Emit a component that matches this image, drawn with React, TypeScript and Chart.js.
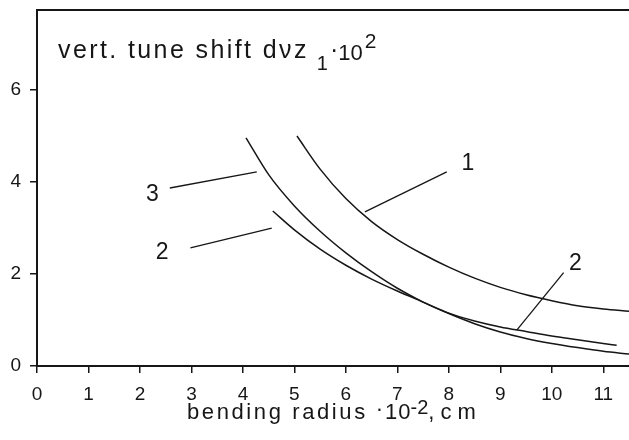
import { useEffect, useRef } from "react";
import { Chart, registerables } from "chart.js";

Chart.register(...registerables);

const INK = "#161616";
const FONT = "'Liberation Sans', Arial, sans-serif";

// axes
const xTickValues = [0, 1, 2, 3, 4, 5, 6, 7, 8, 9, 10, 11];
const yTickValues = [0, 2, 4, 6];
const xMin = 0;
const xMax = 11.5;
const yMin = 0;
const yMax = 7.74;

// curve 1
const curve1X = [5.05, 5.5, 6.0, 6.5, 7.0, 7.5, 8.0, 8.5, 9.0, 9.5, 10.0, 10.5, 11.0, 11.5];
const curve1Y = [5.0, 4.28, 3.64, 3.14, 2.75, 2.43, 2.15, 1.91, 1.71, 1.55, 1.42, 1.31, 1.24, 1.19];

// curve 2
const curve2X = [4.58, 5.0, 5.5, 6.0, 6.5, 7.0, 7.5, 8.0, 8.5, 9.0, 9.5, 10.0, 10.5, 11.0, 11.26];
const curve2Y = [3.37, 2.96, 2.54, 2.19, 1.89, 1.63, 1.39, 1.15, 0.98, 0.85, 0.75, 0.65, 0.57, 0.49, 0.45];

// curve 3
const curve3X = [4.06, 4.5, 5.0, 5.5, 6.0, 6.5, 7.0, 7.5, 8.0, 8.5, 9.0, 9.5, 10.0, 10.5, 11.0, 11.5];
const curve3Y = [4.96, 4.16, 3.48, 2.93, 2.46, 2.05, 1.69, 1.39, 1.14, 0.92, 0.74, 0.6, 0.49, 0.4, 0.32, 0.26];

// curve annotations (label + leader line), in data units
const labelTexts = ["1", "3", "2", "2"];
const labelX = [8.37, 2.24, 2.43, 10.46];
const labelY = [4.41, 3.72, 2.46, 2.23];
const leaderX1 = [7.96, 2.58, 2.98, 10.23];
const leaderY1 = [4.22, 3.87, 2.57, 2.03];
const leaderX2 = [6.37, 4.27, 4.56, 9.32];
const leaderY2 = [3.35, 4.22, 3.0, 0.78];

// titles
const yTitleMain = "vert. tune shift d\u03bdz";
const yTitleSub = "1";
const yTitleDot = "\u00b7";
const yTitleBase = "10";
const yTitleExp = "2";

const xTitleMain = "bending radius";
const xTitleDot = "\u00b7";
const xTitleBase = "10";
const xTitleExp = "-2";
const xTitleUnit = ",cm";

function pts(xs: number[], ys: number[]) {
  return xs.map((x, i) => ({ x, y: ys[i] }));
}

const overlayPlugin = {
  id: "overlay",
  afterDraw(chart: any) {
    const { ctx, chartArea: a, scales } = chart;
    const xs = scales.x;
    const ys = scales.y;
    ctx.save();
    // top frame line
    ctx.strokeStyle = INK;
    ctx.lineWidth = 2;
    ctx.beginPath();
    ctx.moveTo(a.left, a.top);
    ctx.lineTo(a.right, a.top);
    ctx.stroke();

    ctx.fillStyle = INK;
    // curve labels
    ctx.font = `23px ${FONT}`;
    ctx.textAlign = "center";
    ctx.textBaseline = "middle";
    labelTexts.forEach((t, i) => {
      ctx.fillText(t, xs.getPixelForValue(labelX[i]), ys.getPixelForValue(labelY[i]));
    });

    // in-plot y title
    ctx.textAlign = "left";
    ctx.textBaseline = "alphabetic";
    const setLS = (v: string) => {
      try {
        (ctx as any).letterSpacing = v;
      } catch (e) {}
    };
    let x = a.left + 21;
    const base = a.top + 48;
    ctx.font = `25px ${FONT}`;
    setLS("2.4px");
    ctx.fillText(yTitleMain, x, base);
    x += ctx.measureText(yTitleMain).width + 8;
    setLS("0px");
    ctx.font = `20px ${FONT}`;
    ctx.fillText(yTitleSub, x, base + 12);
    x += ctx.measureText(yTitleSub).width + 2;
    ctx.font = `25px ${FONT}`;
    ctx.fillText(yTitleDot, x, base);
    x += ctx.measureText(yTitleDot).width;
    ctx.font = `22px ${FONT}`;
    ctx.fillText(yTitleBase, x, base + 2);
    x += ctx.measureText(yTitleBase).width + 2;
    ctx.font = `21px ${FONT}`;
    ctx.fillText(yTitleExp, x, base - 10);

    // x axis title
    let tx = a.left + 150;
    const tb = a.bottom + 53;
    ctx.font = `22px ${FONT}`;
    setLS("2.6px");
    ctx.fillText(xTitleMain, tx, tb);
    tx += ctx.measureText(xTitleMain).width + 8;
    setLS("0px");
    ctx.fillText(xTitleDot, tx, tb - 3);
    tx += ctx.measureText(xTitleDot).width + 2;
    setLS("1px");
    ctx.fillText(xTitleBase, tx, tb);
    tx += ctx.measureText(xTitleBase).width - 1;
    setLS("0px");
    ctx.font = `20px ${FONT}`;
    ctx.fillText(xTitleExp, tx, tb - 5);
    tx += ctx.measureText(xTitleExp).width;
    ctx.font = `22px ${FONT}`;
    setLS("6px");
    ctx.fillText(xTitleUnit, tx, tb);
    ctx.restore();
  },
};

export default function App() {
  const ref = useRef<HTMLCanvasElement | null>(null);

  useEffect(() => {
    if (!ref.current) return;
    const curveStyle = {
      borderColor: INK,
      borderWidth: 1.5,
      pointRadius: 0,
      fill: false,
      tension: 0.4,
      cubicInterpolationMode: "monotone" as const,
    };
    const leaderSets = labelTexts.map((t, i) => ({
      label: "leader " + t + " " + i,
      data: [
        { x: leaderX1[i], y: leaderY1[i] },
        { x: leaderX2[i], y: leaderY2[i] },
      ],
      borderColor: INK,
      borderWidth: 1.3,
      pointRadius: 0,
      fill: false,
      tension: 0,
    }));
    const chart = new Chart(ref.current, {
      type: "line",
      data: {
        datasets: [
          { label: "1", data: pts(curve1X, curve1Y), ...curveStyle },
          { label: "2", data: pts(curve2X, curve2Y), ...curveStyle },
          { label: "3", data: pts(curve3X, curve3Y), ...curveStyle },
          ...leaderSets,
        ],
      },
      options: {
        animation: false,
        responsive: false,
        devicePixelRatio: 1,
        layout: { padding: { top: 10, right: 0, left: 0, bottom: 0 } },
        plugins: {
          legend: { display: false },
          tooltip: { enabled: false },
          title: { display: false },
        },
        scales: {
          x: {
            type: "linear",
            min: xMin,
            max: xMax,
            afterBuildTicks: (s: any) => {
              s.ticks = xTickValues.map((v) => ({ value: v }));
            },
            afterFit: (s: any) => {
              s.height = 74;
              s.paddingLeft = 0;
              s.paddingRight = 0;
            },
            grid: {
              drawOnChartArea: false,
              drawTicks: true,
              tickLength: 7,
              color: INK,
              lineWidth: 1.5,
            },
            border: { display: true, color: INK, width: 2 },
            ticks: {
              color: INK,
              padding: 10,
              maxRotation: 0,
              autoSkip: false,
              font: { family: FONT, size: 19 },
              callback: (v: any) => String(v),
            },
          },
          y: {
            type: "linear",
            min: yMin,
            max: yMax,
            afterBuildTicks: (s: any) => {
              s.ticks = yTickValues.map((v) => ({ value: v }));
            },
            afterFit: (s: any) => {
              s.width = 37;
              s.paddingTop = 0;
              s.paddingBottom = 0;
            },
            grid: {
              drawOnChartArea: false,
              drawTicks: true,
              tickLength: 7,
              color: INK,
              lineWidth: 1.5,
            },
            border: { display: true, color: INK, width: 2 },
            ticks: {
              color: INK,
              padding: 9,
              autoSkip: false,
              font: { family: FONT, size: 19 },
              callback: (v: any) => String(v),
            },
          },
        },
      },
      plugins: [overlayPlugin],
    });
    return () => chart.destroy();
  }, []);

  return (
    <div
      style={{
        position: "absolute",
        left: 0,
        top: 0,
        width: 629,
        height: 440,
        background: "#fff",
      }}
    >
      <canvas ref={ref} width={629} height={440} style={{ display: "block" }} />
    </div>
  );
}
